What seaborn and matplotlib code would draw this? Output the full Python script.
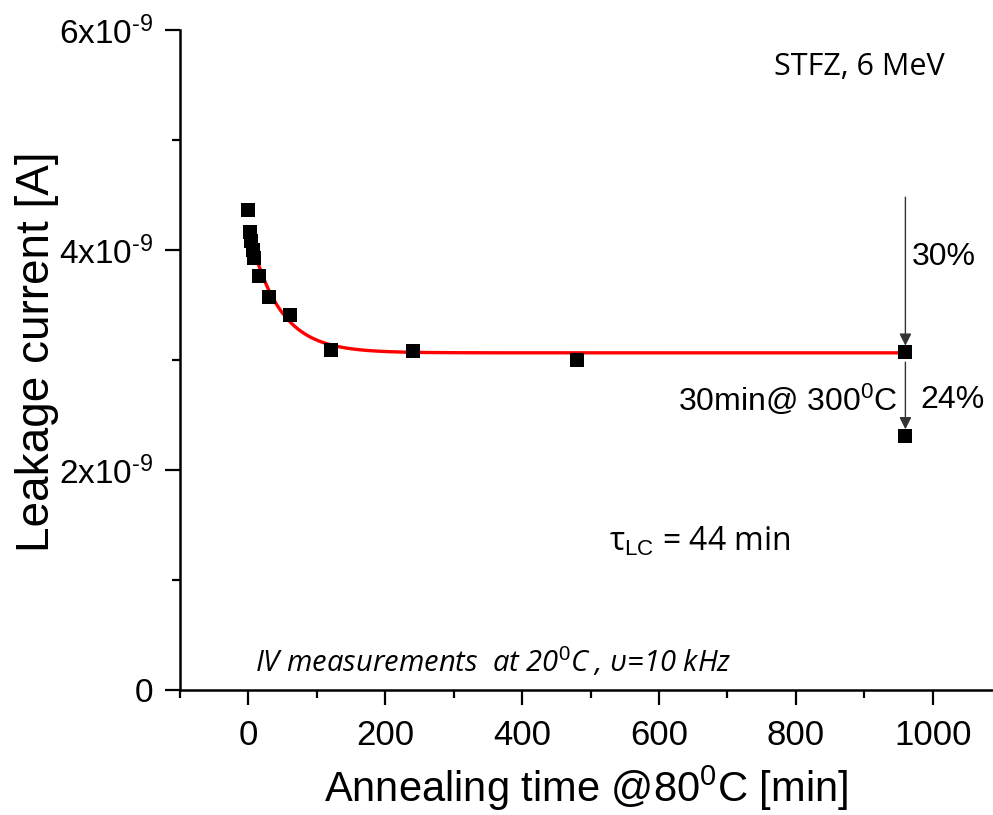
import numpy as np
import pandas as pd
import matplotlib
matplotlib.use("Agg")
import matplotlib.pyplot as plt
from matplotlib.ticker import FixedLocator, MultipleLocator, FuncFormatter
import seaborn as sns

# Annealing time at 80 C [min] and leakage current [A]
anneal_time = [0, 2, 4, 6, 8, 15, 30, 60, 120, 240, 480, 960]
leak_current = [4.36e-9, 4.16e-9, 4.08e-9, 4.00e-9, 3.93e-9, 3.76e-9,
                3.57e-9, 3.41e-9, 3.09e-9, 3.08e-9, 3.00e-9, 3.07e-9]
# after the extra 30 min at 300 C
post_time = [960]
post_current = [2.31e-9]

# exponential fit parameters
tau_lc = 44.0
fit_amp = 1.12e-9
fit_offset = 3.065e-9

y_ticks = [0, 2e-9, 4e-9, 6e-9]
y_tick_labels = ["0", "2x10$^{\\text{-}9}$", "4x10$^{\\text{-}9}$",
                 "6x10$^{\\text{-}9}$"]
x_ticks = [0, 200, 400, 600, 800, 1000]

sns.set_theme(style="ticks")
plt.rcParams["font.family"] = ["Liberation Sans", "DejaVu Sans"]
plt.rcParams["text.color"] = "black"
plt.rcParams["axes.labelcolor"] = "black"
plt.rcParams["mathtext.fontset"] = "custom"
plt.rcParams["mathtext.rm"] = "Liberation Sans"
plt.rcParams["mathtext.it"] = "Open Sans:italic"
plt.rcParams["mathtext.default"] = "rm"

fig = plt.figure(figsize=(9.93, 8.15), dpi=100)
ax = fig.add_axes([0.1813, 0.1534, 0.8187, 0.8098])

df = pd.DataFrame({"t": anneal_time + post_time,
                   "I": leak_current + post_current})
t_fit = np.linspace(0, 960, 400)
fit_df = pd.DataFrame({"t": t_fit,
                       "I": fit_amp * np.exp(-t_fit / tau_lc) + fit_offset})

sns.lineplot(data=fit_df, x="t", y="I", ax=ax, color="#ff0000", lw=2.4,
             zorder=3)
sns.scatterplot(data=df, x="t", y="I", ax=ax, marker="s", color="black",
                s=95, linewidth=0, zorder=4)

ax.set_xlim(-100, 1088)
ax.set_ylim(0, 6e-9)
ax.xaxis.set_major_locator(FixedLocator(x_ticks))
ax.xaxis.set_minor_locator(MultipleLocator(100))
ax.yaxis.set_major_locator(FixedLocator(y_ticks))
ax.yaxis.set_minor_locator(MultipleLocator(1e-9))
ax.yaxis.set_major_formatter(FuncFormatter(
    lambda v, p: y_tick_labels[int(round(v / 2e-9))]))

for side in ["top", "right"]:
    ax.spines[side].set_visible(False)
for side in ["left", "bottom"]:
    ax.spines[side].set_linewidth(1.8)
    ax.spines[side].set_color("black")

ax.tick_params(axis="both", which="major", direction="out", length=11,
               width=1.6, colors="black")
ax.tick_params(axis="both", which="minor", direction="out", length=6,
               width=1.6, colors="black")
ax.tick_params(axis="y", which="major", labelsize=24, pad=8)
ax.tick_params(axis="x", which="major", labelsize=25, pad=10)

ax.set_xlabel("Annealing time @80$^{0}$C [min]", fontsize=30, labelpad=8)
ax.set_ylabel("Leakage current [A]", fontsize=33, labelpad=0)
ax.yaxis.label.set_y(0.512)

calibri_like = ["Open Sans", "DejaVu Sans"]
ax.text(893, 5.66e-9, "STFZ, 6 MeV", fontsize=22, family=calibri_like,
        ha="center", va="center")
ax.text(660, 1.34e-9, "τ$_{\\mathrm{LC}}$ = 44 min", fontsize=23,
        family=calibri_like, ha="center", va="center")
ax.text(358, 0.25e-9,
        "IV measurements  at 20$^{\\mathit{0}}$C , υ=10 kHz",
        fontsize=21, family=calibri_like, style="italic",
        ha="center", va="center")

# reduction arrows at the final annealing step
ax.annotate("", xy=(960, 3.13e-9), xytext=(960, 4.48e-9),
            arrowprops=dict(arrowstyle="-|>", color="#333333", lw=1.0,
                            mutation_scale=18, shrinkA=0, shrinkB=0))
ax.annotate("", xy=(960, 2.37e-9), xytext=(960, 2.98e-9),
            arrowprops=dict(arrowstyle="-|>", color="#333333", lw=1.0,
                            mutation_scale=18, shrinkA=0, shrinkB=0))
ax.text(970, 3.94e-9, "30%", fontsize=23, ha="left", va="center")
ax.text(982, 2.64e-9, "24%", fontsize=23, ha="left", va="center")
ax.text(948, 2.64e-9, "30min@ 300$^{0}$C", fontsize=23, ha="right",
        va="center")

fig.savefig("out.png", dpi=100)
